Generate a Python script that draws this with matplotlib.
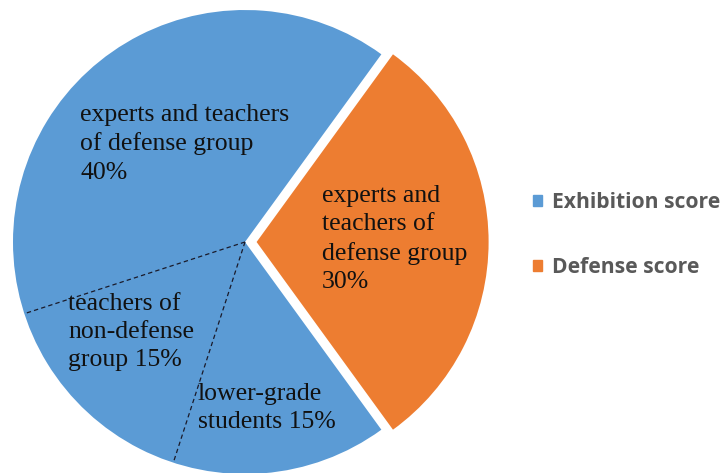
import numpy as np
import matplotlib
matplotlib.use("Agg")
import matplotlib.pyplot as plt
from matplotlib.patches import Patch

# data
categories = ["Exhibition score", "Defense score"]
shares = [70, 30]
colors = ["#5B9BD5", "#ED7D31"]
# sub-groups inside the exhibition wedge (percent of whole)
exhibition_parts = [40, 15, 15]
labels_exhibition = ["experts and teachers\nof defense group\n40%",
                     "teachers of\nnon-defense\ngroup 15%",
                     "lower-grade\nstudents 15%"]
label_defense = "experts and\nteachers of\ndefense group\n30%"

W, H = 723, 473
fig = plt.figure(figsize=(W / 100, H / 100), dpi=100)
ax = fig.add_axes([0, 0, 1, 1])

start = 54
wedges, _ = ax.pie(shares, colors=colors, startangle=start, counterclock=True,
                   explode=[0, 0.05], radius=1.0,
                   wedgeprops=dict(linewidth=0))

# pixel helpers: pie centre at (245, 242) from top-left, radius 232 px
cx, cy, R = 245, 242, 232
ax.set_xlim(-cx / R, (W - cx) / R)
ax.set_ylim(-(H - cy) / R, cy / R)
ax.set_aspect("auto")
ax.axis("off")


def px(x, y):
    return (x - cx) / R, (cy - y) / R


# dashed dividers between the exhibition sub-groups
ang = start
for part in exhibition_parts[:-1]:
    ang += part / 100 * 360
    a = np.deg2rad(ang)
    ax.plot([0, np.cos(a)], [0, np.sin(a)], color="#1a1a2a", lw=0.9,
            ls=(0, (3.5, 2.5)))

serif = dict(family="Liberation Serif", fontsize=18.5, color="#111111",
             ha="left", va="top", linespacing=1.36)
pos = [(80, 104), (68, 293), (198, 383)]
for txt, (x, y) in zip(labels_exhibition, pos):
    ax.text(*px(x, y), txt, **serif)
ax.text(*px(322, 185), label_defense, **serif)

handles = [Patch(color=c, label=l) for c, l in zip(colors, categories)]
leg = fig.legend(handles=handles, loc="center left",
                 bbox_to_anchor=(533 / W, 1 - 235 / H), frameon=False,
                 borderpad=0, borderaxespad=0, handlelength=0.42,
                 handleheight=0.42, handletextpad=0.5, labelspacing=2.05,
                 prop=dict(family="Open Sans", weight="bold", size=15.2))
for t in leg.get_texts():
    t.set_color("#595959")

fig.savefig("out.png", dpi=100)
